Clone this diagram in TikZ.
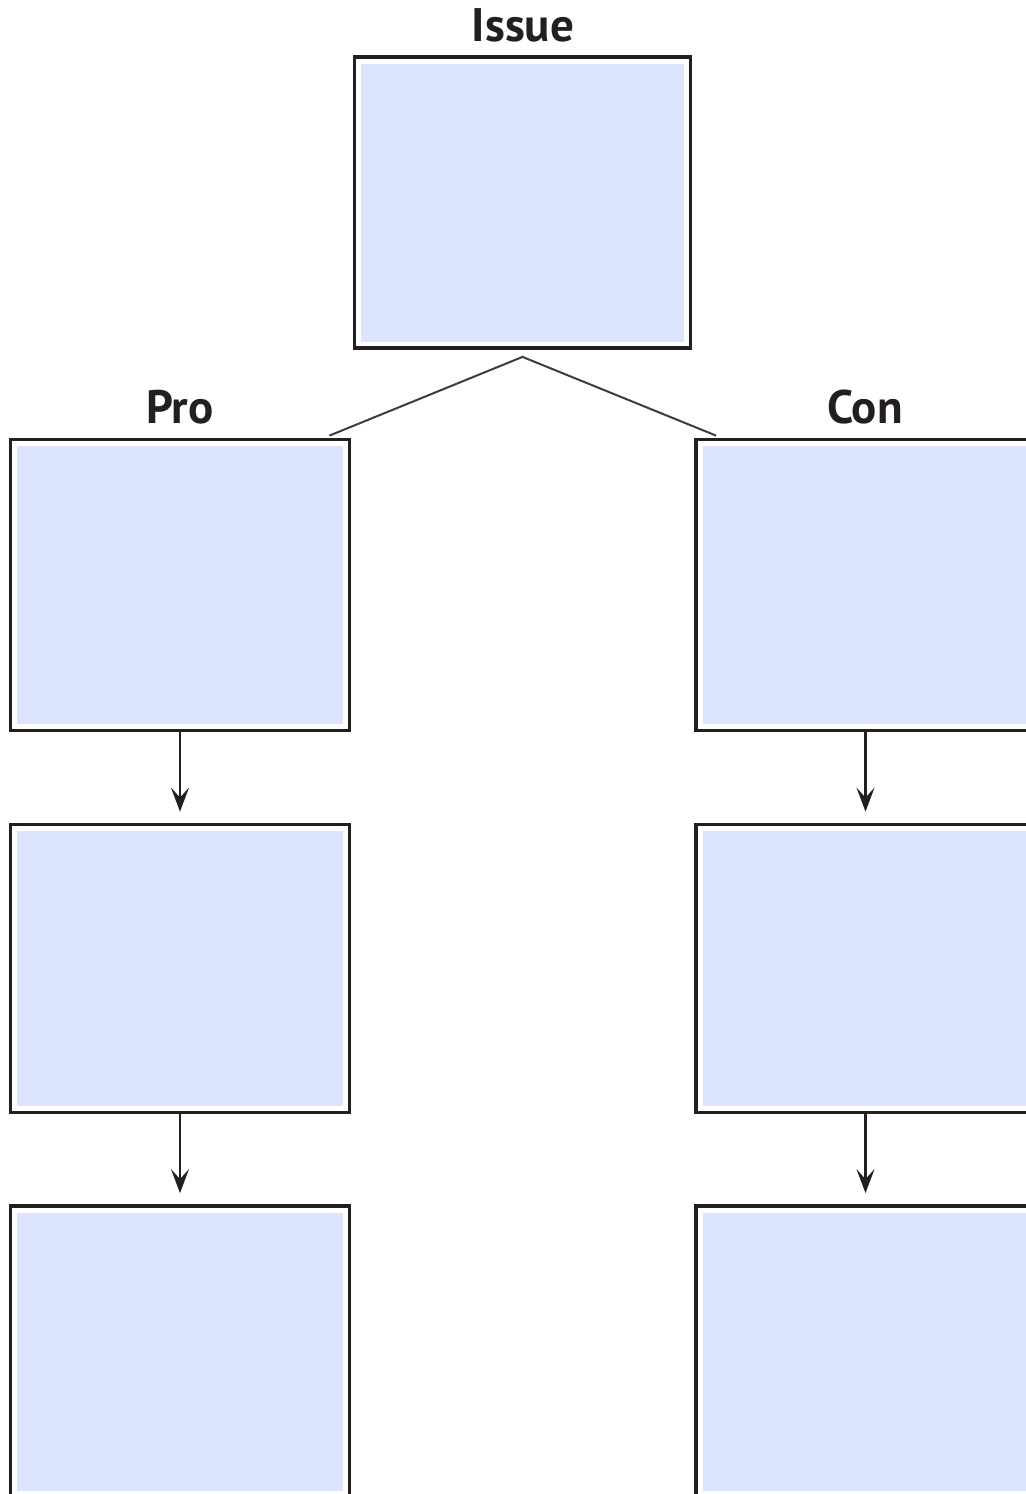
\documentclass[tikz,border=0pt]{standalone}
\usepackage{fontspec}
\setmainfont{PT Sans}
\usetikzlibrary{arrows.meta}
\definecolor{boxfill}{RGB}{220,228,254}
\definecolor{ink}{RGB}{35,31,32}
\definecolor{linkgray}{RGB}{60,60,60}
\begin{document}
\begin{tikzpicture}[x=0.5pt,y=-0.5pt,
  card/.style={draw=ink, line width=1.9pt, fill=white, inner sep=0pt,
    minimum width=169.5pt, minimum height=145.5pt,
    path picture={\fill[boxfill] ([shift={(3.25pt,-3.25pt)}]path picture bounding box.north west)
      rectangle ([shift={(-3.25pt,3.25pt)}]path picture bounding box.south east);}},
  title/.style={anchor=base, inner sep=0pt, text=ink, font=\fontsize{23.5}{26}\selectfont\bfseries},
  arr/.style={draw=ink, line width=1.3pt, shorten >=5.5pt, -{Stealth[length=12pt,width=9pt,inset=5pt]}},
  link/.style={draw=linkgray, line width=1pt}
]
\useasboundingbox (0,0) rectangle (1026,1494);
\clip (0,0) rectangle (1026,1494);
% boxes
\node[card, minimum width=168pt] (issue) at (522.5,202.5) {};
\node[card] (pro1) at (180,585) {};
\node[card, minimum height=144pt] (pro2) at (180,968.5) {};
\node[card] (pro3) at (180,1351.5) {};
\node[card] (con1) at (865.5,585) {};
\node[card, minimum height=144pt] (con2) at (865.5,968.5) {};
\node[card] (con3) at (865.5,1351.5) {};
% titles
\node[title] (tissue) at (523,41) {Issue};
\node[title] (tpro) at (180,423) {Pro};
\node[title] (tcon) at (865,423) {Con};
% links
\coordinate (apex) at ([yshift=-3.5pt]issue.south);
\coordinate (proend) at ([xshift=-11pt,yshift=1pt]pro1.north east);
\coordinate (conend) at ([xshift=11pt,yshift=1pt]con1.north west);
\draw[link] (proend) -- (apex) -- (conend);
% arrows
\draw[arr] (pro1) -- (pro2);
\draw[arr] (pro2) -- (pro3);
\draw[arr] (con1) -- (con2);
\draw[arr] (con2) -- (con3);
\end{tikzpicture}
\end{document}
